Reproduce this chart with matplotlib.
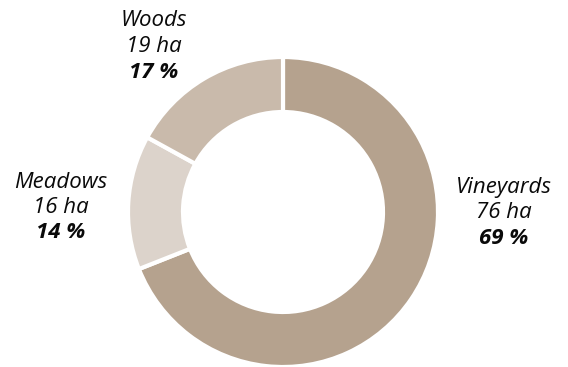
import matplotlib.pyplot as plt

labels = ["Vineyards", "Meadows", "Woods"]
hectares = [76, 16, 19]
percents = [69, 14, 17]
colors = ["#b5a28e", "#dcd3cb", "#c9baab"]

fig = plt.figure(figsize=(5.68, 3.67), dpi=100)
ax = fig.add_axes([0, 0, 1, 1])

cx, cy, r = 283, 212, 155
# y axis is flipped below, so angles run the other way round on screen
wedges, _ = ax.pie(percents, colors=colors, startangle=-90, counterclock=True,
                   radius=r, center=(cx, cy), frame=True,
                   wedgeprops=dict(width=55, edgecolor="white", linewidth=3))
ax.set_xlim(0, 568)
ax.set_ylim(367, 0)
ax.set_aspect("equal")
ax.axis("off")

# label positions (text centres)
pos = {"Vineyards": (504, 187), "Meadows": (61, 182), "Woods": (154, 21)}
font = "Open Sans"
for name, ha_val, pct in zip(labels, hectares, percents):
    x, y = pos[name]
    ax.text(x, y, name, ha="center", va="center", fontsize=16,
            family=font, style="italic", color="#0a0a0a")
    ax.text(x, y + 25.5, f"{ha_val} ha", ha="center", va="center", fontsize=16,
            family=font, style="italic", color="#0a0a0a")
    ax.text(x, y + 51, f"{pct} %", ha="center", va="center", fontsize=16,
            family=font, style="italic", weight="bold", color="#0a0a0a")

fig.savefig("out.png", dpi=100)
